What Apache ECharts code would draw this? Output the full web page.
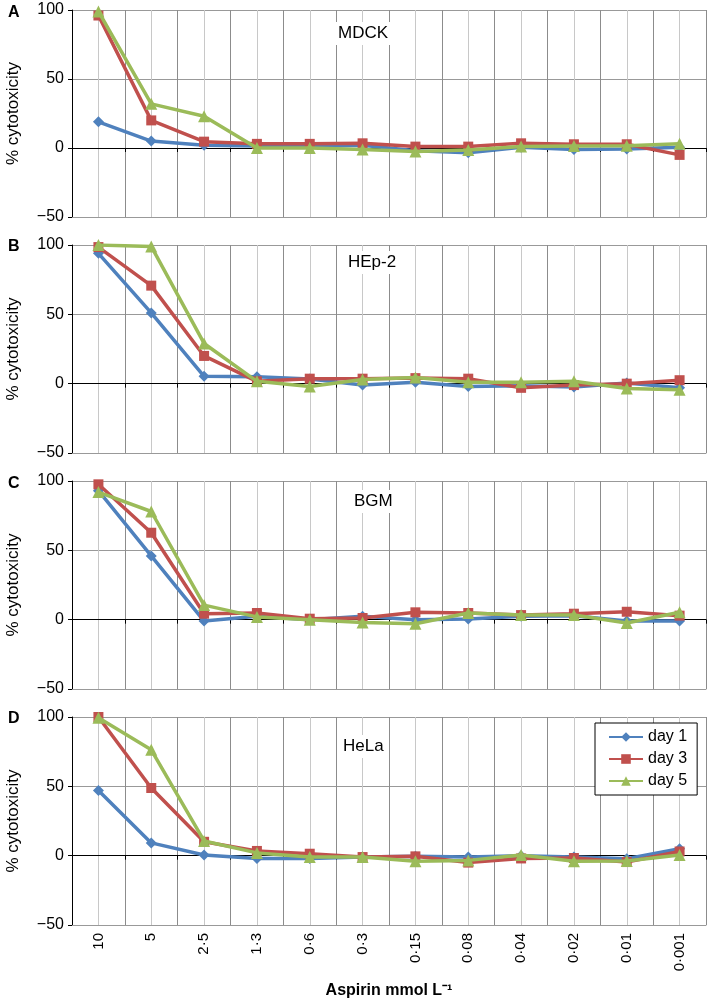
<!DOCTYPE html>
<html>
<head>
<meta charset="utf-8">
<script src="https://cdn.jsdelivr.net/npm/echarts@6/dist/echarts.min.js"></script>
<style>
html,body{margin:0;padding:0;background:#fff;}
#chart{width:709px;height:998px;}
</style>
</head>
<body>
<div id="chart"></div>
<script>
const categories = ['10','5','2·5','1·3','0·6','0·3','0·15','0·08','0·04','0·02','0·01','0·001'];
const panelLetters = ['A','B','C','D'];
const cellLines = ['MDCK','HEp-2','BGM','HeLa'];
const seriesNames = ['day 1','day 3','day 5'];
const yTicks = [-50, 0, 50, 100];

const mdckDay1 = [19, 5, 2, 1.5, 1, 2, -2, -3.5, 0.5, -1, -0.7, 0.5];
const mdckDay3 = [96, 20, 4.6, 3, 3, 3.4, 1, 1, 3.4, 2.7, 2.7, -5];
const mdckDay5 = [99, 32, 23, 0, 0, -1, -2.5, -1.5, 1, 1.5, 1.7, 3];

const hep2Day1 = [94, 51, 5.3, 5, 3.4, -1, 1, -2, -1.5, -2.4, 0.5, -3];
const hep2Day3 = [98.5, 70.7, 20, 1.7, 3.6, 3.6, 4, 3.6, -3, -1, 0, 2.5];
const hep2Day5 = [100, 99, 29, 1.7, -2, 3, 4.5, 1, 1, 1.7, -3.5, -4.3];

const bgmDay1 = [93, 46, -1, 2.4, 0, 2.4, 0, 0.5, 2.4, 2.9, -1, -1];
const bgmDay3 = [97.6, 62.7, 4.3, 4.8, 0.7, 1.2, 5.3, 4.8, 3.3, 4.3, 5.7, 2.9];
const bgmDay5 = [92, 78, 10.5, 2, 0, -2, -3, 4.8, 3.3, 3.3, -2.4, 5.3];

const helaDay1 = [47, 9.2, 0.5, -2, -2, -1, -0.5, -1, 0, -1, -2.2, 5];
const helaDay3 = [100, 48.8, 10, 3.4, 1.4, -1, -0.5, -5, -2, -1.7, -4.6, 3];
const helaDay5 = [99.5, 76.3, 10.6, 2, -1, -1, -4, -3.4, 0.5, -4, -3.9, 0.5];

const panelData = [
  [mdckDay1, mdckDay3, mdckDay5],
  [hep2Day1, hep2Day3, hep2Day5],
  [bgmDay1, bgmDay3, bgmDay5],
  [helaDay1, helaDay3, helaDay5]
];

const colors = ['#4f81bd', '#c0504d', '#9bbb59'];
const symbols = ['diamond', 'rect', 'triangle'];
const symbolSizes = [11, 10, 12];
const gridTops = [10, 245, 481, 717];
const gridHeights = [207, 208, 208, 208];
const titlePos = [[338, 34], [348, 263], [354, 502], [343, 747]];
const letterPos = [[8, 13], [8, 247], [8, 484], [8, 719]];
const FONT = '"Liberation Sans", Arial, sans-serif';

const grids = [], xAxes = [], yAxes = [], series = [], graphics = [];
for (let i = 0; i < 4; i++) {
  grids.push({left: 72, right: 3, top: gridTops[i], height: gridHeights[i],
    containLabel: false, outerBoundsMode: 'none'});
  xAxes.push({
    type: 'category', gridIndex: i, data: categories, position: 'bottom',
    boundaryGap: true,
    axisLine: {show: true, onZero: false, lineStyle: {color: '#999', width: 1}},
    axisTick: {show: false},
    axisLabel: {show: i === 3, rotate: 90, fontSize: 15, color: '#000', fontFamily: FONT, margin: 8},
    splitLine: {show: false},
    name: i === 3 ? 'Aspirin mmol L⁻¹' : '',
    nameLocation: 'middle', nameGap: 58,
    nameTextStyle: {fontSize: 16, fontWeight: 'bold', color: '#000', fontFamily: FONT}
  });
  xAxes.push({
    type: 'category', gridIndex: i, data: categories, position: 'bottom',
    boundaryGap: true,
    axisLine: {show: true, onZero: true, lineStyle: {color: '#000', width: 1}},
    axisTick: {show: true, length: 4, lineStyle: {color: '#000'}},
    axisLabel: {show: false},
    splitLine: {show: false}
  });
  xAxes.push({
    type: 'value', gridIndex: i, min: 0, max: 24, interval: 1, position: 'top',
    axisLine: {show: false}, axisTick: {show: false}, axisLabel: {show: false},
    splitLine: {show: true, lineStyle: {color: ['#8c8c8c', '#c8c8c8'], width: 1}}
  });
  yAxes.push({
    type: 'value', gridIndex: i, min: -50, max: 100, interval: 50,
    axisLine: {show: true, onZero: false, lineStyle: {color: '#000', width: 1}},
    axisTick: {show: true, length: 4, lineStyle: {color: '#000'}},
    axisLabel: {fontSize: 16, color: '#000', fontFamily: FONT, margin: 8,
      formatter: v => String(v).replace('-', '\u2212')},
    splitLine: {show: true, lineStyle: {color: '#999', width: 1}},
    name: '% cytotoxicity', nameLocation: 'middle', nameGap: 50,
    nameTextStyle: {fontSize: 17, color: '#000', fontFamily: FONT}
  });
  for (let s = 0; s < 3; s++) {
    series.push({
      type: 'line', name: seriesNames[s], xAxisIndex: i * 3, yAxisIndex: i,
      data: panelData[i][s], symbol: symbols[s], symbolSize: symbolSizes[s],
      showAllSymbol: true,
      lineStyle: {color: colors[s], width: 3.5},
      itemStyle: {color: colors[s]},
      z: 3 + s, animation: false
    });
  }
  graphics.push({type: 'text', left: titlePos[i][0] - 3, top: titlePos[i][1] - 12, z: 10,
    style: {text: cellLines[i], font: '17px ' + FONT, fill: '#000',
      backgroundColor: '#fff', padding: [3, 3, 3, 3]}});
  graphics.push({type: 'text', left: letterPos[i][0], top: letterPos[i][1] - 8,
    style: {text: panelLetters[i], font: 'bold 16px ' + FONT, fill: '#000'}});
}

const chart = echarts.init(document.getElementById('chart'), null, {renderer: 'canvas'});
chart.setOption({
  animation: false,
  backgroundColor: '#fff',
  textStyle: {fontFamily: FONT},
  grid: grids,
  xAxis: xAxes,
  yAxis: yAxes,
  series: series,
  graphic: graphics,
  legend: {
    data: seriesNames, orient: 'vertical', left: 595, top: 723,
    borderColor: '#000', borderWidth: 1, backgroundColor: '#fff',
    padding: [6, 10, 6, 13], itemGap: 6, itemWidth: 34, itemHeight: 12,
    textStyle: {fontSize: 16, color: '#000', fontFamily: FONT}
  }
});
</script>
</body>
</html>
